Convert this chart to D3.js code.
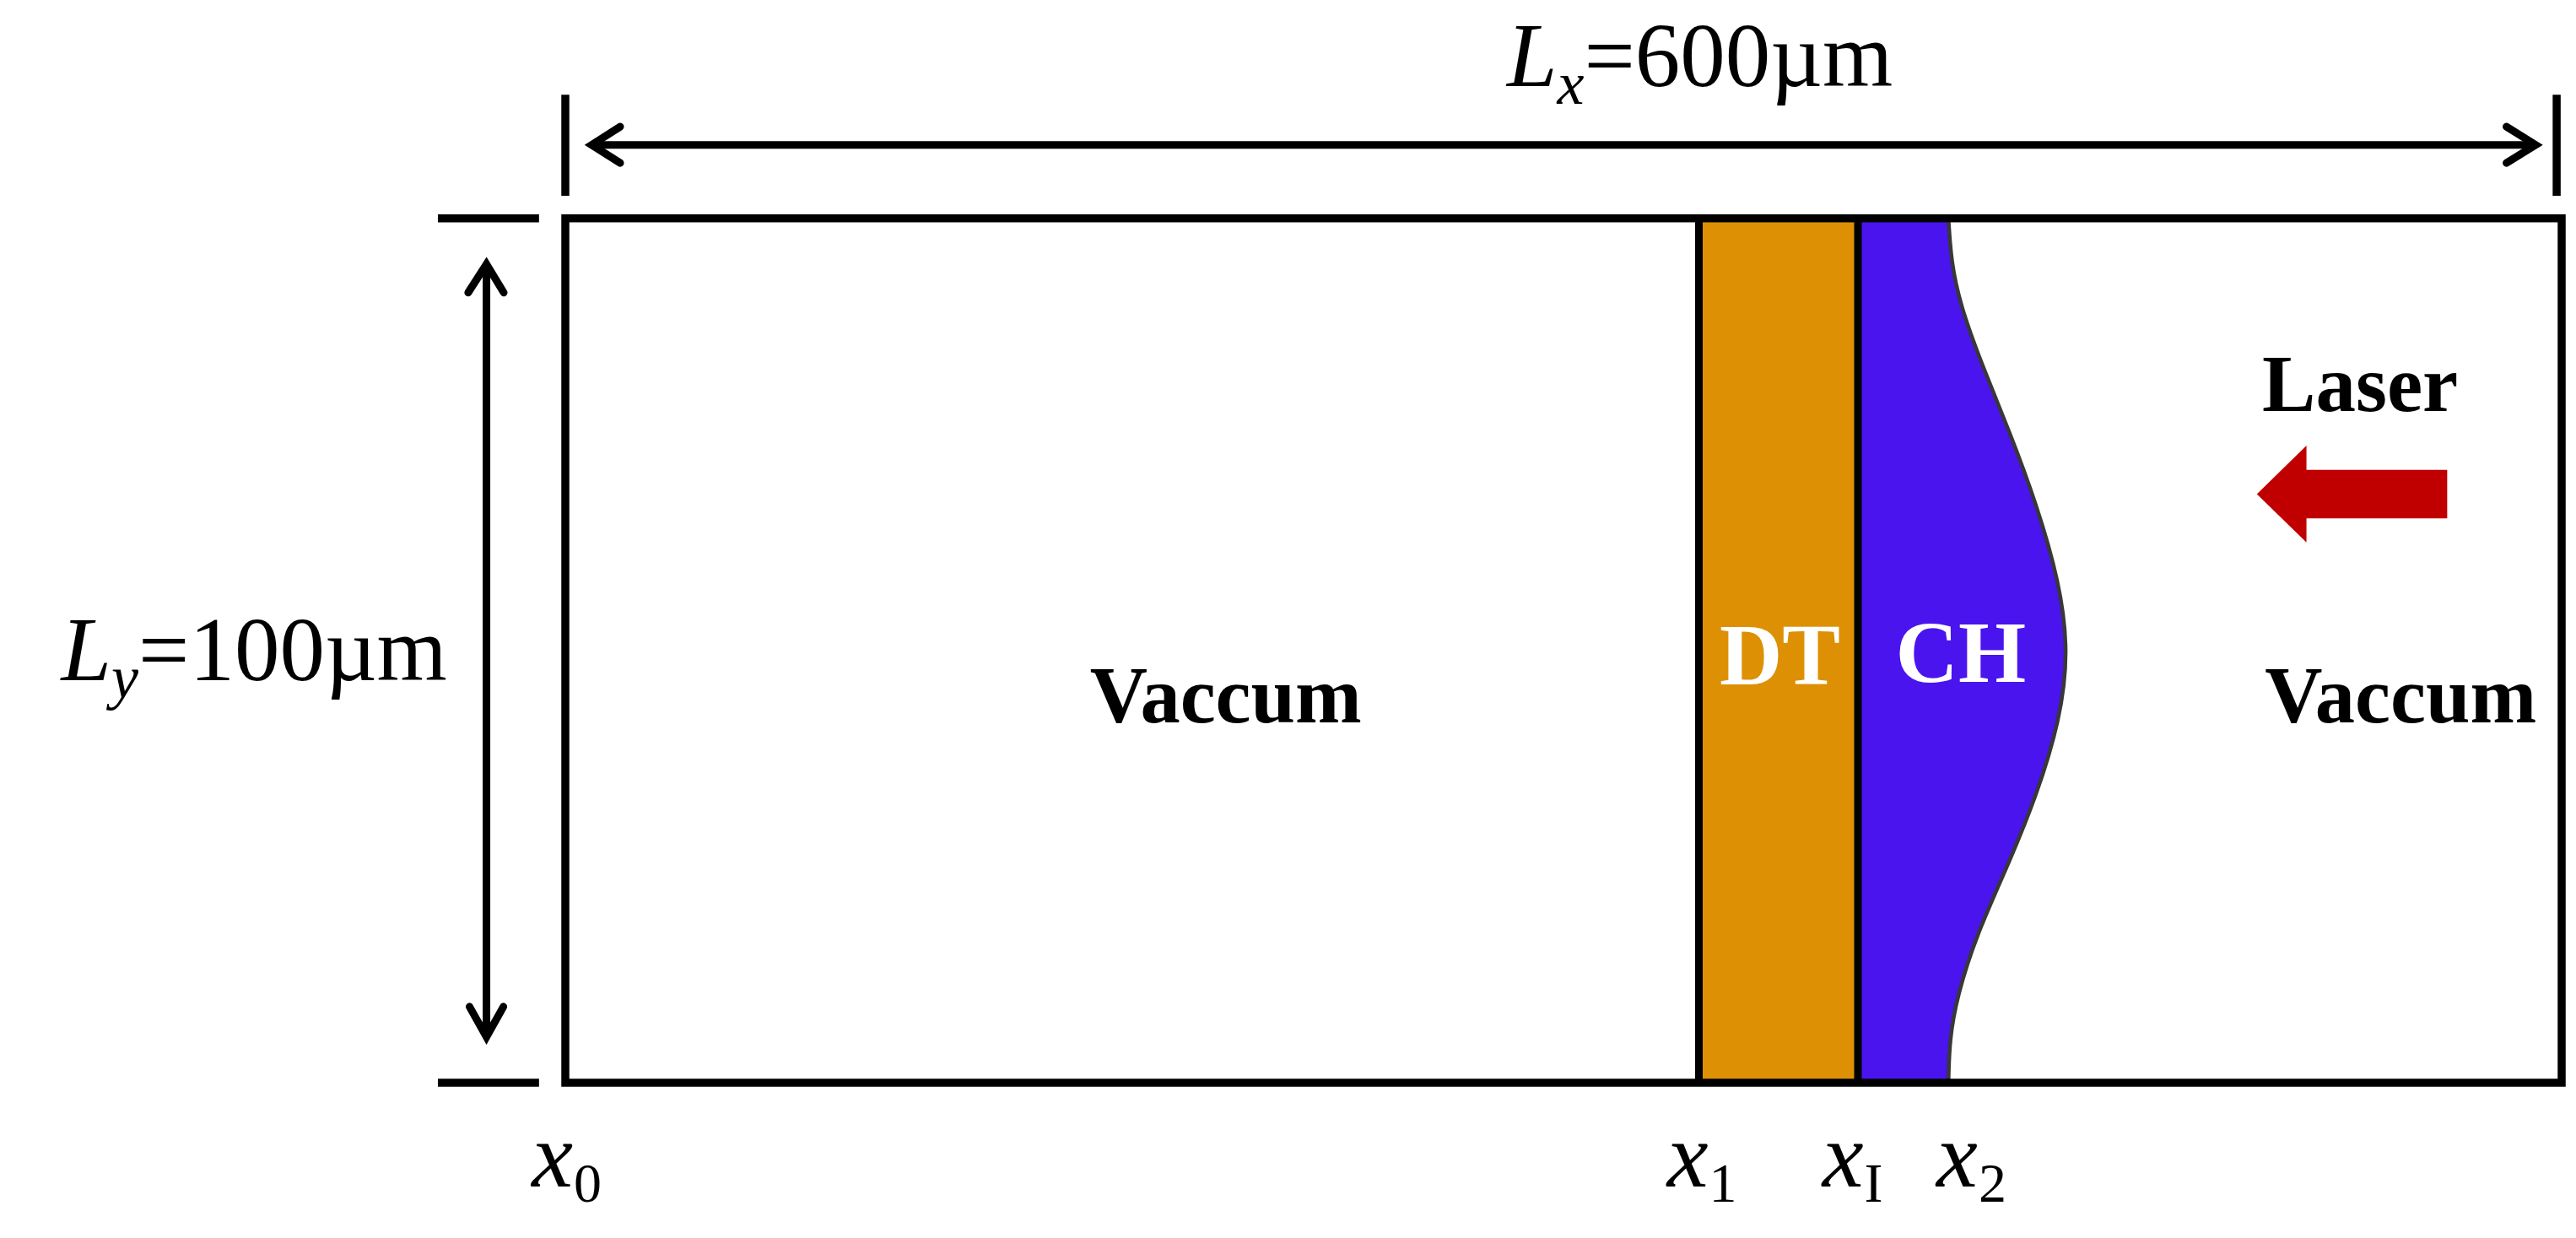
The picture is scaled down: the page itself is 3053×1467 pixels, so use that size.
<!DOCTYPE html>
<html>
<head>
<meta charset="utf-8">
<script src="https://cdn.jsdelivr.net/npm/d3@7"></script>
<style>
  html, body { margin: 0; background: #fff; }
  text { font-family: "Liberation Serif", serif; }
</style>
</head>
<body>
<svg id="chart"></svg>
<script>
const width = 3053;
const height = 1467;

// domain size in microns
const lengthX = 600;
const lengthY = 100;

// interfaces along x, in microns
const interfaceNames = ["0", "1", "I", "2"];
const interfaceX = [0, 340.7, 388.5, 415.7];

// rippled ablator surface
const frontY = [0, 0, 5, 10, 17, 25, 33, 42, 50, 58, 67, 75, 83, 90, 95, 100, 100];
const frontX = [415.7, 415.7, 416.5, 419.2, 425.8, 434.4, 442.1, 449, 451.8, 449.3, 442, 433.4, 424, 418.3, 416, 415.7, 415.7];

const x = d3.scaleLinear().domain([0, lengthX]).range([670, 3036]);
const y = d3.scaleLinear().domain([0, lengthY]).range([258.7, 1283]);

const svg = d3.select("#chart").attr("width", width).attr("height", height)
  .attr("viewBox", [0, 0, width, height]).style("display", "block");

const line = d3.line().x((d) => x(d[0])).y((d) => y(d[1]));
const front = d3.zip(frontX, frontY);

// DT layer
svg.append("rect")
  .attr("x", x(interfaceX[1])).attr("y", y(0))
  .attr("width", x(interfaceX[2]) - x(interfaceX[1])).attr("height", y(lengthY) - y(0))
  .attr("fill", "#dd9003");

// CH layer
const chArea = d3.area().curve(d3.curveBasis)
  .y((d) => y(d[1])).x0(x(interfaceX[2])).x1((d) => x(d[0]));
svg.append("path").attr("d", chArea(front)).attr("fill", "#4a14ee");
const frontLine = d3.line().curve(d3.curveBasis).x((d) => x(d[0])).y((d) => y(d[1]));
svg.append("path")
  .attr("d", frontLine(front))
  .attr("fill", "none").attr("stroke", "#383838").attr("stroke-width", 4.5);

// frame and interfaces
svg.append("rect")
  .attr("x", x(0)).attr("y", y(0))
  .attr("width", x(lengthX) - x(0)).attr("height", y(lengthY) - y(0))
  .attr("fill", "none").attr("stroke", "#000").attr("stroke-width", 9.5);
svg.selectAll(".iface").data(interfaceX.slice(1, 3)).join("line")
  .attr("class", "iface")
  .attr("x1", (d) => x(d)).attr("x2", (d) => x(d))
  .attr("y1", y(0)).attr("y2", y(lengthY))
  .attr("stroke", "#000").attr("stroke-width", 9);

// extension ticks of the dimension arrows
const ticks = [
  [[0, -14.3], [0, -2.6]],
  [[598.5, -14.3], [598.5, -2.6]],
  [[-38.3, 0], [-7.9, 0]],
  [[-38.3, 100], [-7.9, 100]]
];
svg.selectAll(".tick").data(ticks).join("path")
  .attr("class", "tick")
  .attr("d", line)
  .attr("fill", "none").attr("stroke", "#000").attr("stroke-width", 9.5);

// dimension arrows: shaft plus open head at each end
const dimShafts = [
  [[7.9, -8.5], [592.2, -8.5]],
  [[-23.7, 5.3], [-23.7, 94.7]]
];
const dimHeads = [
  [[16.5, -10.6], [7.9, -8.5], [16.5, -6.4]],
  [[583.4, -10.6], [592.2, -8.5], [583.4, -6.4]],
  [[-29.2, 8.6], [-23.7, 5.3], [-18.5, 8.6]],
  [[-28.8, 91.2], [-23.7, 94.7], [-18.6, 91.2]]
];
svg.selectAll(".shaft").data(dimShafts).join("path")
  .attr("class", "shaft").attr("d", line)
  .attr("fill", "none").attr("stroke", "#000").attr("stroke-width", 9);
svg.selectAll(".head").data(dimHeads).join("path")
  .attr("class", "head").attr("d", line)
  .attr("fill", "none").attr("stroke", "#000").attr("stroke-width", 9)
  .attr("stroke-linecap", "round").attr("stroke-linejoin", "miter").attr("stroke-miterlimit", 10);

// laser arrow
const laserArrow = [[508.4, 31.9], [523.3, 26.3], [523.3, 29.1], [565.6, 29.1],
  [565.6, 34.7], [523.3, 34.7], [523.3, 37.5]];
svg.append("path").attr("d", line(laserArrow) + "Z").attr("fill", "#c00000");

// bold region labels
const labels = ["Vaccum", "Vaccum", "Laser", "DT", "CH"];
const labelX = [157.7, 510.8, 510, 346.9, 399.8];
const labelY = [58.3, 58.3, 22.3, 53.9, 53.6];
const labelSize = [94.5, 94.5, 95, 103, 103];
const labelColor = ["#000", "#000", "#000", "#fff", "#fff"];
svg.selectAll(".label").data(labels).join("text")
  .attr("class", "label")
  .attr("x", (d, i) => x(labelX[i])).attr("y", (d, i) => y(labelY[i]))
  .attr("font-size", (d, i) => labelSize[i])
  .attr("font-weight", "bold")
  .attr("fill", (d, i) => labelColor[i])
  .text((d) => d);

// interface labels under the frame
const nameX = [-10.1, 331.1, 377.8, 412.1];
const nameG = svg.selectAll(".name").data(interfaceNames).join("text")
  .attr("class", "name")
  .attr("x", (d, i) => x(nameX[i])).attr("y", y(112));
nameG.append("tspan").attr("font-size", 110).attr("font-style", "italic").text("x");
nameG.append("tspan").attr("font-size", 66).attr("dx", 1).attr("dy", 18).text((d) => d);

// dimension labels
function dimLabel(px, py, letter, sub, rest) {
  const t = svg.append("text").attr("x", x(px)).attr("y", y(py));
  t.append("tspan").attr("font-size", 107).attr("font-style", "italic").text(letter);
  t.append("tspan").attr("font-size", 72).attr("font-style", "italic").attr("dy", 21).text(sub);
  t.append("tspan").attr("font-size", 107).attr("dy", -21).text(rest);
}
dimLabel(283, -15.3, "L", "x", "=600µm");
dimLabel(-151.5, 53.4, "L", "y", "=100µm");
</script>
</body>
</html>
